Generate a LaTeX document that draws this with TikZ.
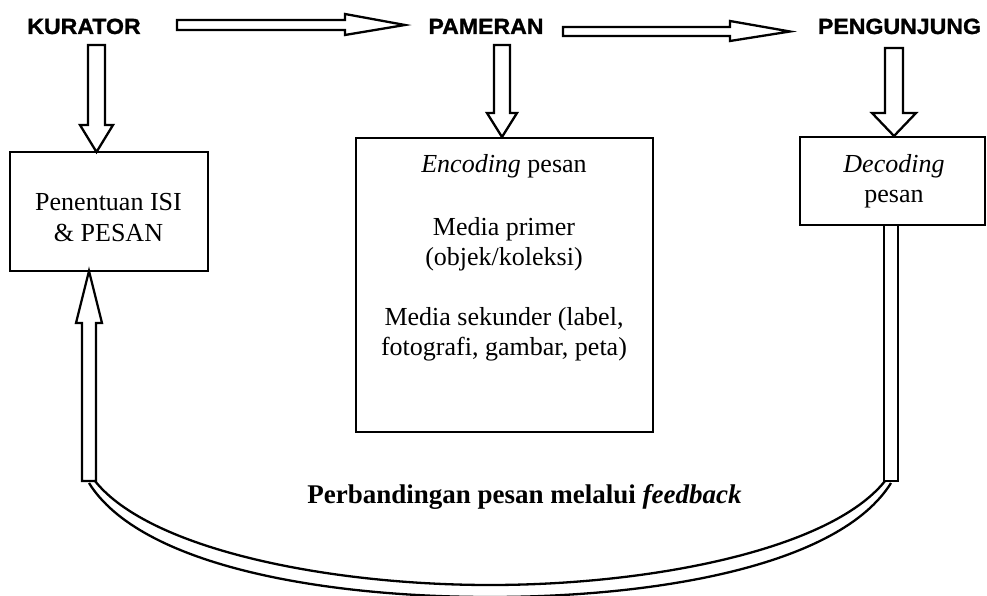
\documentclass[tikz,border=0pt]{standalone}
\usepackage{fontspec}
\setmainfont{Liberation Serif}
\newfontfamily\headfont[FakeStretch=1.05,BoldFeatures={FakeBold=1.2}]{Liberation Sans}
\begin{document}
\begin{tikzpicture}[x=1pt,y=-1pt,line join=miter,
  outline/.style={draw=black,line width=2.3pt,fill=white},
  band/.style={draw=black,line width=2.3pt},
  boxstyle/.style={draw=black,line width=2.6pt,inner sep=0pt,rectangle},
  headtext/.style={font=\headfont\bfseries\fontsize{22}{24}\selectfont,inner sep=0pt,anchor=base},
  bodytext/.style={font=\fontsize{26}{30}\selectfont,inner sep=0pt,anchor=base},
  fbtext/.style={font=\bfseries\fontsize{27}{30}\selectfont,inner sep=0pt,anchor=base}]
\useasboundingbox (0,0) rectangle (987,596);
\clip (0,0) rectangle (987,596);

% headers
\node[headtext] (kurator) at (84,34) {KURATOR};
\node[headtext] (pameran) at (486,34) {PAMERAN};
\node[headtext] (pengunjung) at (899.5,34) {PENGUNJUNG};

% boxes
\node[boxstyle,minimum width=198pt,minimum height=119pt] (isi) at (109,211.5) {};
\node[boxstyle,minimum width=297pt,minimum height=294pt] (enc) at (504.5,285) {};
\node[boxstyle,minimum width=185pt,minimum height=88pt] (dec) at (892.5,181) {};

% box texts
\node[bodytext] (isi1) at (108.5,211) {Penentuan ISI};
\node[bodytext] (isi2) at (108.5,241) {\& PESAN};
\node[bodytext] (enc1) at (504,173) {\textit{Encoding} pesan};
\node[bodytext] (enc2) at (504,235) {Media primer};
\node[bodytext] (enc3) at (504,265) {(objek/koleksi)};
\node[bodytext] (enc4) at (504,325) {Media sekunder (label,};
\node[bodytext] (enc5) at (504,355) {fotografi, gambar, peta)};
\node[bodytext] (dec1) at (894,173) {\textit{Decoding}};
\node[bodytext] (dec2) at (894,203) {pesan};

\node[fbtext] (fb) at (524.5,503) {Perbandingan pesan melalui \textit{feedback}};

% horizontal block arrows
\draw[outline] (177,20) -- (345,20) -- (345,14) -- (405,25) -- (345,35) -- (345,30) -- (177,30) -- cycle;
\draw[outline] (563,27) -- (730,27) -- (730,21) -- (790,31.5) -- (730,41) -- (730,36) -- (563,36) -- cycle;

% downward block arrows
\draw[outline] (88,45) -- (88,125) -- (80,125) -- (96.5,152) -- (113,125) -- (105,125) -- (105,45) -- cycle;
\draw[outline] (494,45) -- (494,113) -- (487,113) -- (502,137) -- (517,113) -- (510,113) -- (510,45) -- cycle;
\draw[outline] (885,48) -- (885,113) -- (872,113) -- (894,136) -- (916,113) -- (903,113) -- (903,48) -- cycle;

% feedback loop
\draw[outline] (82,481) -- (82,323) -- (76,323) -- (89,271) -- (102,323) -- (96,323) -- (96,481) -- cycle;
\draw[band] (884,225) -- (884,481) -- (898,481) -- (898,225);
\draw[band] (95,481) .. controls (150,550) and (330,585) .. (490,585)
                     .. controls (650,585) and (830,550) .. (885,481);
\draw[band] (89,483) .. controls (140,565) and (320,597) .. (490,597)
                     .. controls (660,597) and (840,565) .. (891,483);
\end{tikzpicture}
\end{document}
